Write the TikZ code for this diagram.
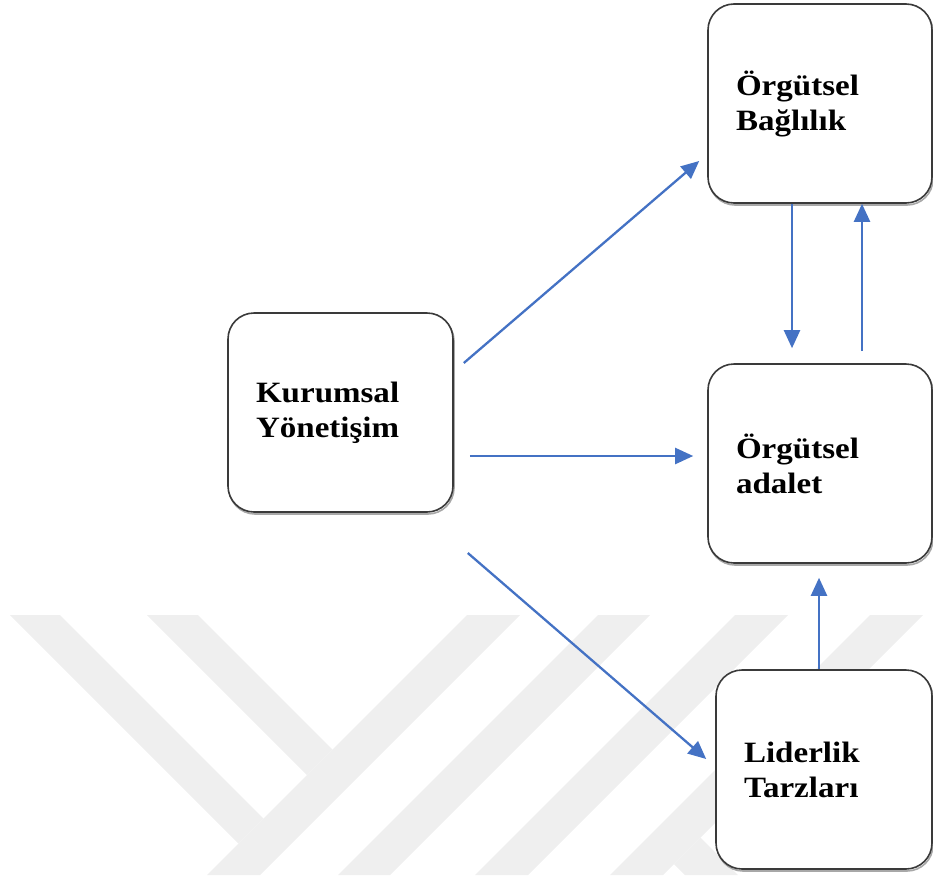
\documentclass[tikz,border=0pt]{standalone}
\usepackage{fontspec}
\setmainfont{Liberation Serif}[FakeStretch=1.12]
\usetikzlibrary{arrows.meta,calc}
\definecolor{linkblue}{HTML}{4472C4}
\definecolor{wmgray}{RGB}{239,239,239}
\definecolor{boxline}{HTML}{3A3A3A}
\definecolor{boxshade}{HTML}{A8A8A8}
\tikzset{
  box/.style={draw=boxline, line width=1.6pt, fill=white, rounded corners=26pt,
    minimum height=199pt, inner xsep=28pt, inner ysep=0pt,
    align=left, font=\fontsize{29.5}{35}\selectfont\bfseries},
  shade edge/.style={draw=boxshade, line width=1.6pt, rounded corners=26pt},
  link/.style={draw=linkblue, line width=2.3pt, -{Triangle[length=18pt,width=16pt]}}
}
\begin{document}
\begin{tikzpicture}[x=1pt,y=-1pt]
\useasboundingbox (0,0) rectangle (933,875);

% faint background emblem: diagonal bands
\begin{scope}
  \clip (0,615) rectangle (933,875);
  % bands rising to the right (x+y = const edges)
  \foreach \a/\b in {1082/1135, 1213/1265, 1350/1403, 1485/1538}{
    \fill[wmgray] ({\a-615},615) -- ({\b-615},615) -- ({\b-875},875) -- ({\a-875},875) -- cycle;
  }
  % bands falling to the right
  \fill[wmgray] (10,615) -- (60,615) -- (263.5,818.5) -- (238.5,843.5) -- cycle;
  \fill[wmgray] (147,615) -- (198,615) -- (332.5,749.5) -- (307,775) -- cycle;
  \fill[wmgray] (700.5,837.5) -- (738,875) -- (685,875) -- (674,864) -- cycle;
\end{scope}

% soft shade under each box
\foreach \x/\y/\w in {820/103.5/224, 340.5/412.5/225, 820/463.5/224, 824/769.5/216}{
  \draw[shade edge] ({\x-\w/2+1},{\y-99.5+2}) rectangle ({\x+\w/2+1},{\y+99.5+2});
}

% boxes
\node[box, minimum width=224pt, text width=168pt] (bag) at (820,103.5) {Örgütsel\\Bağlılık};
\node[box, minimum width=225pt, text width=169pt] (kur) at (340.5,412.5) {Kurumsal\\Yönetişim};
\node[box, minimum width=224pt, text width=168pt] (adl) at (820,463.5) {Örgütsel\\adalet};
\node[box, minimum width=216pt, text width=160pt] (lid) at (824,769.5) {Liderlik\\Tarzları};

% connectors
\draw[link] ($(kur.east)+(10,-49.5)$) -- ($(bag.west)+(-8,57.5)$);
\draw[link] ($(kur.east)+(16,43.5)$) -- ($(adl.west)+(-14,-7.5)$);
\draw[link] ($(kur.east)+(14,140.5)$) -- ($(lid.west)+(-9,-10.5)$);
\draw[link] ($(bag.south)+(-28,0)$) -- ($(adl.north)+(-28,-15)$);
\draw[link] ($(adl.north)+(42,-12)$) -- ($(bag.south)+(42,0)$);
\draw[link] ($(lid.north)+(-5,0)$) -- ($(adl.south)+(-1,14)$);
\end{tikzpicture}
\end{document}
